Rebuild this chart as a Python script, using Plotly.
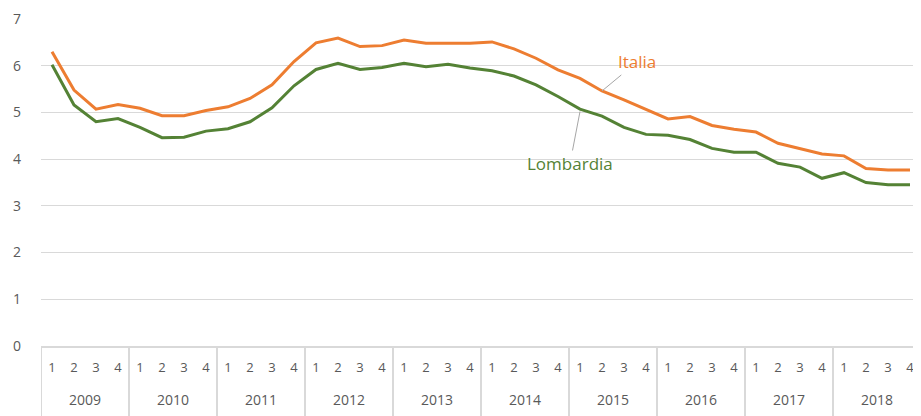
import plotly.graph_objects as go

years = [str(y) for y in range(2009, 2019)]
quarters = ["1", "2", "3", "4"]

italia = [6.30, 5.48, 5.07, 5.17, 5.09, 4.93, 4.93, 5.04,
          5.12, 5.30, 5.59, 6.09, 6.49, 6.59, 6.41, 6.43,
          6.55, 6.48, 6.48, 6.48, 6.51, 6.36, 6.16, 5.91,
          5.73, 5.46, 5.27, 5.07, 4.86, 4.91, 4.72, 4.64,
          4.58, 4.34, 4.23, 4.11, 4.07, 3.80, 3.77, 3.77]

lombardia = [6.02, 5.16, 4.80, 4.87, 4.68, 4.46, 4.47, 4.60,
             4.65, 4.80, 5.10, 5.57, 5.92, 6.05, 5.92, 5.96,
             6.05, 5.98, 6.03, 5.95, 5.89, 5.78, 5.59, 5.34,
             5.07, 4.92, 4.68, 4.53, 4.51, 4.42, 4.23, 4.15,
             4.15, 3.91, 3.83, 3.59, 3.71, 3.50, 3.45, 3.45]

periods = [f"{y}-{q}" for y in years for q in quarters]
q_labels = [q for y in years for q in quarters]

orange = "#ED7D31"
green = "#548235"
grid = "#D9D9D9"

fig = go.Figure()
fig.add_trace(go.Scatter(x=periods, y=lombardia, mode="lines",
                         line=dict(color=green, width=3), name="Lombardia"))
fig.add_trace(go.Scatter(x=periods, y=italia, mode="lines",
                         line=dict(color=orange, width=3), name="Italia"))

# series labels with leader lines
fig.add_annotation(x=periods[25], y=italia[25], text="Italia", showarrow=True,
                   arrowhead=0, arrowwidth=1, arrowcolor="#A6A6A6",
                   ax=35, ay=-29, font=dict(color=orange, size=17))
fig.add_annotation(x=periods[24], y=lombardia[24] - 0.05, text="Lombardia",
                   showarrow=True, arrowhead=0, arrowwidth=1, arrowcolor="#A6A6A6",
                   ax=-10, ay=52, font=dict(color=green, size=17))

# year labels and dividers below the axis
n_q = len(quarters)
for i, y in enumerate(years):
    fig.add_annotation(x=i * n_q + (n_q - 1) / 2, xref="x", y=-0.165, yref="paper",
                       text=y, showarrow=False, yanchor="middle",
                       font=dict(size=14, color="#595959"))
    fig.add_shape(type="line", xref="x", yref="paper",
                  x0=i * n_q - 0.5, x1=i * n_q - 0.5, y0=0, y1=-0.24,
                  line=dict(color=grid, width=2))
fig.add_shape(type="line", xref="x", yref="paper",
              x0=len(periods) - 0.5, x1=len(periods) - 0.5, y0=0, y1=-0.24,
              line=dict(color=grid, width=2))

# page body adds an 8px offset, so size/margins are trimmed to match
fig.update_layout(
    width=913, height=408,
    margin=dict(l=33, r=0, t=11, b=70),
    plot_bgcolor="white", paper_bgcolor="white",
    showlegend=False,
    font=dict(family="Open Sans, sans-serif", color="#595959", size=13),
)
fig.update_yaxes(range=[0, 7], dtick=1, showgrid=True, gridcolor=grid,
                 gridwidth=1, zeroline=False, ticks="", automargin=False,
                 ticklabelstandoff=19, tickfont=dict(size=14))
fig.update_xaxes(type="category", range=[-0.5, len(periods) - 0.5],
                 tickmode="array", tickvals=periods, ticktext=q_labels,
                 showline=True, linecolor=grid, linewidth=2, ticks="",
                 automargin=False, ticklabelstandoff=8,
                 tickfont=dict(size=13), showgrid=False)

fig.write_html("out.html")
